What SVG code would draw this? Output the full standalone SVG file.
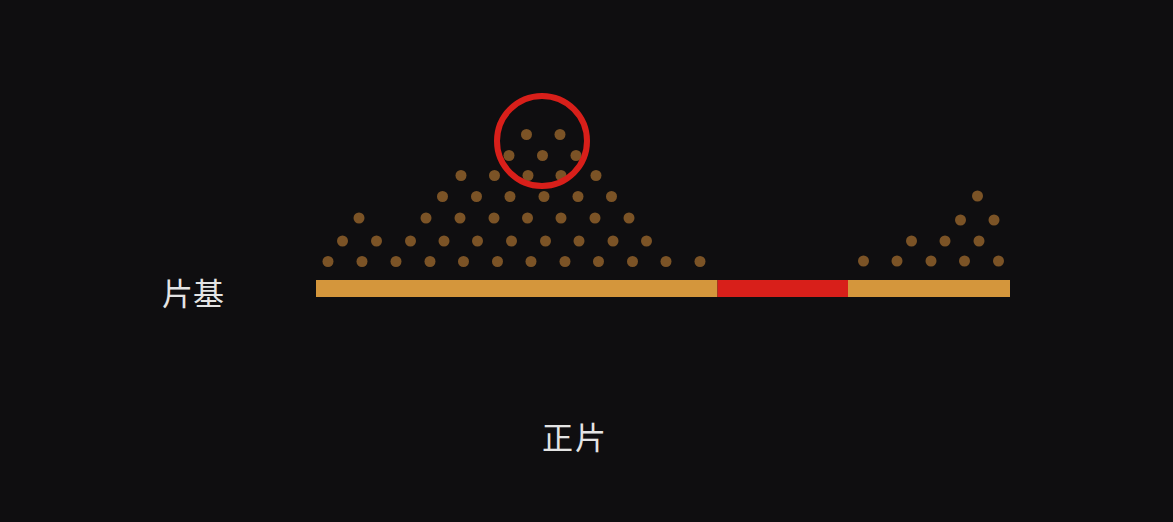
<svg xmlns="http://www.w3.org/2000/svg" width="1173" height="522" viewBox="0 0 1173 522">
<defs>
<style>
.d{fill:#7b5326}
.lbl{font-family:"Noto Sans CJK SC","Noto Sans CJK JP",sans-serif;font-size:31px;fill:#e4e4e4}
</style>
</defs>
<rect x="0" y="0" width="1173" height="522" fill="#0f0e10"/>
<g id="dots-left">
<circle class="d" cx="328" cy="261.5" r="5.5"/><circle class="d" cx="362" cy="261.5" r="5.5"/><circle class="d" cx="396" cy="261.5" r="5.5"/><circle class="d" cx="430" cy="261.5" r="5.5"/><circle class="d" cx="463.5" cy="261.5" r="5.5"/><circle class="d" cx="497.5" cy="261.5" r="5.5"/><circle class="d" cx="531" cy="261.5" r="5.5"/><circle class="d" cx="565" cy="261.5" r="5.5"/><circle class="d" cx="598.5" cy="261.5" r="5.5"/><circle class="d" cx="632.5" cy="261.5" r="5.5"/><circle class="d" cx="666" cy="261.5" r="5.5"/><circle class="d" cx="700" cy="261.5" r="5.5"/>
<circle class="d" cx="342.5" cy="241" r="5.5"/><circle class="d" cx="376.5" cy="241" r="5.5"/><circle class="d" cx="410.5" cy="241" r="5.5"/><circle class="d" cx="444" cy="241" r="5.5"/><circle class="d" cx="477.5" cy="241" r="5.5"/><circle class="d" cx="511.5" cy="241" r="5.5"/><circle class="d" cx="545.5" cy="241" r="5.5"/><circle class="d" cx="579" cy="241" r="5.5"/><circle class="d" cx="613" cy="241" r="5.5"/><circle class="d" cx="646.5" cy="241" r="5.5"/>
<circle class="d" cx="359" cy="218" r="5.5"/><circle class="d" cx="426" cy="218" r="5.5"/><circle class="d" cx="460" cy="218" r="5.5"/><circle class="d" cx="494" cy="218" r="5.5"/><circle class="d" cx="527.5" cy="218" r="5.5"/><circle class="d" cx="561" cy="218" r="5.5"/><circle class="d" cx="595" cy="218" r="5.5"/><circle class="d" cx="629" cy="218" r="5.5"/>
<circle class="d" cx="442.5" cy="196.5" r="5.5"/><circle class="d" cx="476.5" cy="196.5" r="5.5"/><circle class="d" cx="510" cy="196.5" r="5.5"/><circle class="d" cx="544" cy="196.5" r="5.5"/><circle class="d" cx="578" cy="196.5" r="5.5"/><circle class="d" cx="611.5" cy="196.5" r="5.5"/>
<circle class="d" cx="461" cy="175.5" r="5.5"/><circle class="d" cx="494.5" cy="175.5" r="5.5"/><circle class="d" cx="528" cy="175.5" r="5.5"/><circle class="d" cx="561" cy="175.5" r="5.5"/><circle class="d" cx="596" cy="175.5" r="5.5"/>
<circle class="d" cx="509" cy="155.5" r="5.5"/><circle class="d" cx="542.5" cy="155.5" r="5.5"/><circle class="d" cx="576" cy="155.5" r="5.5"/>
<circle class="d" cx="526.5" cy="134.5" r="5.5"/><circle class="d" cx="560" cy="134.5" r="5.5"/>
</g>
<g id="dots-right">
<circle class="d" cx="863.5" cy="261" r="5.5"/><circle class="d" cx="897" cy="261" r="5.5"/><circle class="d" cx="931" cy="261" r="5.5"/><circle class="d" cx="964.5" cy="261" r="5.5"/><circle class="d" cx="998.5" cy="261" r="5.5"/>
<circle class="d" cx="911.5" cy="241" r="5.5"/><circle class="d" cx="945" cy="241" r="5.5"/><circle class="d" cx="979" cy="241" r="5.5"/>
<circle class="d" cx="960.5" cy="220" r="5.5"/><circle class="d" cx="994" cy="220" r="5.5"/>
<circle class="d" cx="977.5" cy="196" r="5.5"/>
</g>
<g id="base">
<rect x="316" y="280" width="401.5" height="17" fill="#d4963c"/>
<rect x="717.5" y="280" width="130.5" height="17" fill="#d81f1a"/>
<rect x="848" y="280" width="162" height="17" fill="#d4963c"/>
</g>
<g id="highlight">
<circle cx="542" cy="141" r="45" fill="none" stroke="#d81f1a" stroke-width="6"/>
</g>
<g id="label-base"><text class="lbl" x="162" y="305">片基</text></g>
<g id="label-positive"><text class="lbl" x="542" y="449" letter-spacing="2">正片</text></g>
</svg>
